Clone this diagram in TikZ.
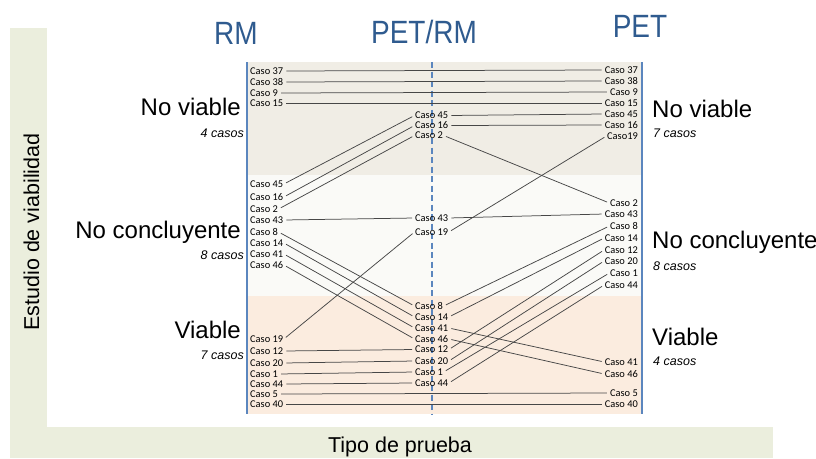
\documentclass[tikz,border=0pt]{standalone}
\usepackage{fontspec}
\setmainfont{Liberation Sans}
\newfontfamily\casofont{Carlito}
\usetikzlibrary{positioning}

\definecolor{ejeverde}{HTML}{EBEEDD}
\definecolor{bandaalta}{HTML}{F0EDE5}
\definecolor{bandamedia}{HTML}{FAFAF7}
\definecolor{bandabaja}{HTML}{FBECDF}
\definecolor{titulo}{HTML}{2F5B8F}
\definecolor{columna}{HTML}{5B86BE}

\tikzset{
  caso/.style={font=\casofont\fontsize{10.4}{11}\selectfont, inner sep=0.5pt},
  enlace/.style={draw=black!72, line width=0.75pt, shorten <=2.5pt, shorten >=2.5pt},
  columna/.style={draw=columna, line width=1.8pt},
  titulo/.style={font=\fontsize{28}{30}\selectfont, text=titulo, yscale=1.15, anchor=base},
  clase/.style={font=\fontsize{24}{26}\selectfont, inner sep=0pt},
  ncasos/.style={font=\itshape\fontsize{12.5}{13}\selectfont, inner sep=0pt},
  eje/.style={font=\fontsize{21.5}{23}\selectfont, inner sep=0pt, anchor=base},
}

\begin{document}
\begin{tikzpicture}[x=1pt, y=-1pt]
  \useasboundingbox (0,0) rectangle (816,458);
  \fill[ejeverde] (10,28) rectangle (47,458);
  \fill[ejeverde] (10,427) rectangle (773,458);
  \fill[bandaalta] (247,62) rectangle (642,175);
  \fill[bandamedia] (247,175) rectangle (642,296);
  \fill[bandabaja] (247,296) rectangle (642,414);
  \draw[columna] (247,62) -- (247,414);
  \draw[columna] (642,62) -- (642,414);
  \draw[columna, dash pattern=on 6pt off 3.5pt] (432,62) -- (432,414);

  \node[titulo] (tRM) at (236,44) {RM};
  \node[titulo] (tPETRM) at (424,43) {PET/RM};
  \node[titulo] (tPET) at (640,37) {PET};

  \node[clase, anchor=base east] (lnv) at (241,115) {No viable};
  \node[ncasos, anchor=base east] (lnvc) at (244,137) {4 casos};
  \node[clase, anchor=base east] (lnc) at (241,238) {No concluyente};
  \node[ncasos, anchor=base east] (lncc) at (244,259) {8 casos};
  \node[clase, anchor=base east] (lv) at (241,338) {Viable};
  \node[ncasos, anchor=base east] (lvc) at (244,359) {7 casos};

  \node[clase, anchor=base west] (rnv) at (652,117) {No viable};
  \node[ncasos, anchor=base west] (rnvc) at (653,137) {7 casos};
  \node[clase, anchor=base west] (rnc) at (652,248) {No concluyente};
  \node[ncasos, anchor=base west] (rncc) at (653,270) {8 casos};
  \node[clase, anchor=base west] (rv) at (652,345) {Viable};
  \node[ncasos, anchor=base west] (rvc) at (653,365) {4 casos};

  \node[eje, rotate=90] (ejey) at (39,232) {Estudio de viabilidad};
  \node[eje] (ejex) at (400,452) {Tipo de prueba};

  \foreach \n/\y in {37/71, 38/82, 9/93, 15/103, 45/184, 16/197, 2/209, 43/220,
                     8/232, 14/243, 41/254, 46/265, 19/339, 12/351, 20/363,
                     1/374, 44/384, 5/394, 40/404}
    \node[caso, anchor=west] (l\n) at (249.5,\y) {Caso \n};

  \foreach \n/\y in {45/115.5, 16/125.5, 2/135.5, 43/218, 19/232, 8/306, 14/317,
                     41/328, 46/339, 12/349.5, 20/361, 1/372, 44/383}
    \node[caso, anchor=west] (c\n) at (414.5,\y) {Caso \n};

  \foreach \n/\y/\t in {37/70/Caso 37, 38/81/Caso 38, 9/92/Caso 9, 15/103/Caso 15,
                        45/114/Caso 45, 16/125/Caso 16, 19/136/Caso19, 2/203/Caso 2,
                        43/214/Caso 43, 8/226/Caso 8, 14/238/Caso 14, 12/250/Caso 12,
                        20/261/Caso 20, 1/273/Caso 1, 44/285/Caso 44, 41/362/Caso 41,
                        46/374/Caso 46, 5/393/Caso 5, 40/404/Caso 40}
    \node[caso, anchor=east] (r\n) at (638.5,\y) {\t};

  \foreach \n in {37, 38, 9, 15, 5, 40}
    \draw[enlace] (l\n.east) -- (r\n.west);
  \foreach \n in {45, 16, 2, 43, 19, 8, 14, 41, 46, 12, 20, 1, 44} {
    \draw[enlace] (l\n.east) -- (c\n.west);
    \draw[enlace] (c\n.east) -- (r\n.west);
  }
\end{tikzpicture}
\end{document}
